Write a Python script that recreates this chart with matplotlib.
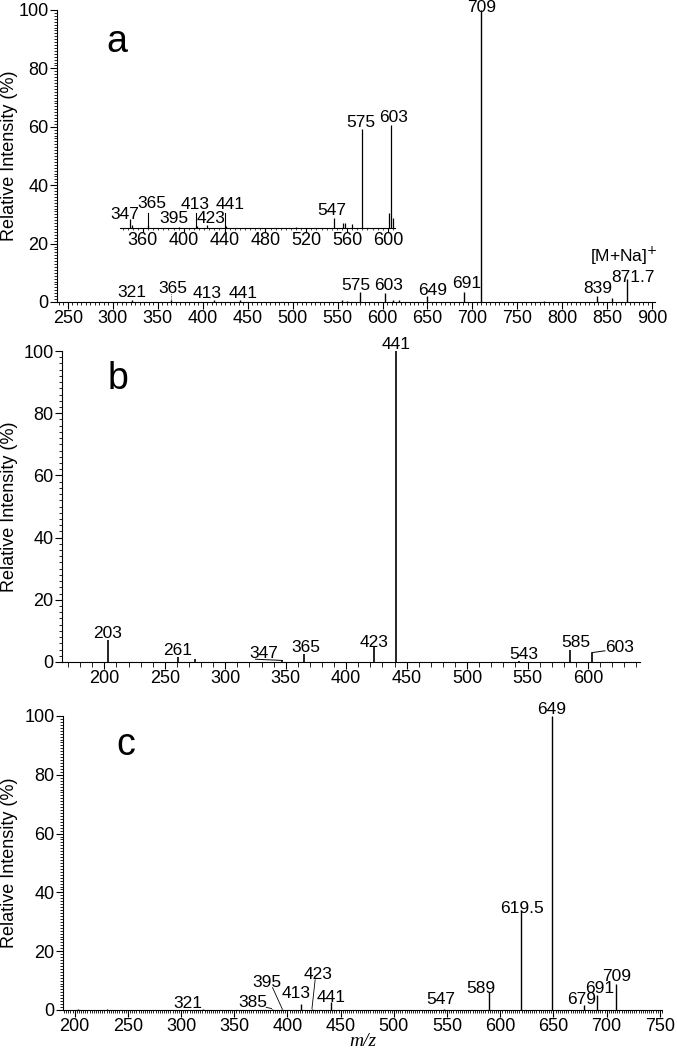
import matplotlib
matplotlib.use("Agg")
import matplotlib.pyplot as plt
from matplotlib.ticker import MultipleLocator

plt.rcParams['font.family'] = ['Liberation Sans', 'DejaVu Sans']

# ---------------- data ----------------
# Panel a (main spectrum)
a_mz = [321, 365, 413, 441, 555, 560, 575, 603, 612, 618, 649, 691, 709, 780, 839, 855, 871.7]
a_int = [0.6, 0.8, 0.7, 0.7, 0.6, 0.5, 3.5, 3.0, 0.8, 0.6, 2.0, 3.5, 100, 0.5, 2.0, 1.5, 8.0]
a_labels = ['321', '365', '413', '441', '575', '603', '649', '691', '709', '839', '871.7']
a_lab_x = [321, 367, 405, 445, 570, 607, 656, 694, 710, 839, 878]
a_lab_y = [1.7, 3.1, 1.4, 1.4, 4.1, 4.1, 2.4, 4.8, 99.4, 3.1, 6.8]

# Panel a inset (zoom 340-607)
i_mz = [347, 349, 365, 395, 413, 423, 441, 510, 547, 556, 558, 565, 575, 601, 603, 605]
i_int = [9, 3, 3, 1, 2, 3, 2, 1, 10, 5, 5, 4, 96, 15, 100, 10]
i_labels = ['347', '365', '395', '413', '423', '441', '547', '575', '603']
i_lab_x = [342, 369, 390, 411, 427, 445, 545, 574, 606]
i_lab_y = [9, 19.4, 5, 18.4, 5, 18.4, 12.6, 98, 103]

# Panel b
b_mz = [203, 261, 275, 347, 365, 423, 441, 543, 585, 603]
b_int = [7.0, 1.6, 1.0, 0.5, 2.6, 5.0, 100, 0.3, 4.0, 3.0]
b_labels = ['203', '261', '347', '365', '423', '441', '543', '585', '603']
b_lab_x = [203, 261, 332, 367, 423, 441, 547, 590, 626]
b_lab_y = [7.7, 2.3, 1.3, 3.2, 4.8, 100.8, 1.0, 4.8, 3.2]

# Panel c
c_mz = [203, 230, 321, 385, 395, 413, 423, 441, 547, 589, 619.5, 649, 679, 691, 709]
c_int = [0.5, 0.4, 0.3, 0.5, 0.4, 2.0, 0.5, 2.7, 0.4, 6.0, 34, 100, 1.7, 5.0, 9.0]
c_labels = ['321', '385', '395', '413', '423', '441', '547', '589', '619.5', '649', '679', '691', '709']
c_lab_x = [306, 367, 381, 408, 429, 441, 544, 582, 620, 648, 676, 693, 709]
c_lab_y = [0.7, 1.0, 7.8, 4.1, 10.5, 2.7, 2.0, 5.8, 33, 100.7, 2.0, 5.8, 10]

FS = 12.5
W, H = 677, 1048


def ax_rect(l, t, r, b):
    return [l / W, 1 - b / H, (r - l) / W, (b - t) / H]


fig = plt.figure(figsize=(W / 100, H / 100), dpi=100)


def style(ax, xlim, major, minor, ymin):
    ax.set_xlim(*xlim)
    ax.set_ylim(0, 100)
    for s in ['top', 'right']:
        ax.spines[s].set_visible(False)
    ax.xaxis.set_major_locator(MultipleLocator(major))
    ax.xaxis.set_minor_locator(MultipleLocator(minor))
    ax.yaxis.set_major_locator(MultipleLocator(20))
    ax.yaxis.set_minor_locator(MultipleLocator(ymin))
    ax.tick_params(axis='both', which='major', labelsize=13, length=5, width=0.8,
                   direction='out', pad=1)
    ax.tick_params(axis='both', which='minor', length=2.5, width=0.6, direction='out')
    ax.set_ylabel('Relative Intensity (%)', fontsize=13, labelpad=2)


def peaks(ax, mz, inten, lw=1.0):
    ax.vlines(mz, 0, inten, color='black', lw=lw)


def labels(ax, txt, xs, ys, fs=FS):
    for t, x, y in zip(txt, xs, ys):
        ax.text(x, y, t, ha='center', va='baseline', fontsize=fs, clip_on=False)


# ---------------- panel a ----------------
axa = fig.add_axes(ax_rect(57, 10, 655, 302))
style(axa, (238, 903), 50, 5, 1)
peaks(axa, a_mz, a_int)
labels(axa, a_labels, a_lab_x, a_lab_y)
axa.plot([365, 365], [1.0, 2.9], color='black', lw=0.6, ls=':')
axa.text(868, 13.7, '[M+Na]$^{+}$', ha='center', va='baseline', fontsize=FS)
axa.text(305, 85.6, 'a', fontsize=27, ha='center', va='baseline')
axa.yaxis.set_label_coords(-0.065, 0.5)

# inset
axi = fig.add_axes(ax_rect(120, 118, 395, 228))
axi.set_xlim(337.5, 607)
axi.set_ylim(0, 107)
for s in ['top', 'right', 'left']:
    axi.spines[s].set_visible(False)
axi.set_yticks([])
axi.xaxis.set_major_locator(MultipleLocator(40))
axi.xaxis.set_minor_locator(MultipleLocator(5))
axi.tick_params(axis='x', which='major', labelsize=13, length=3, width=0.8, pad=0)
axi.tick_params(axis='x', which='minor', length=1.5, width=0.5)
axi.patch.set_alpha(0)
peaks(axi, i_mz, i_int, lw=0.9)
labels(axi, i_labels, i_lab_x, i_lab_y)
for x0, y0 in [(365, 14.5), (412, 14.5), (440, 14.5)]:
    axi.plot([x0, x0], [0, y0], color='black', lw=0.8)

# ---------------- panel b ----------------
axb = fig.add_axes(ax_rect(62, 351, 640, 662))
style(axb, (165, 643), 50, 10, 2)
axb.tick_params(axis='x', which='minor', length=3.5)
peaks(axb, b_mz, b_int, lw=1.2)
labels(axb, b_labels, b_lab_x, b_lab_y)
axb.plot([325, 347], [0.9, 0.5], color='black', lw=0.7)
axb.plot([603, 614], [3.0, 3.6], color='black', lw=0.7)
axb.text(211, 87.8, 'b', fontsize=27, ha='center', va='baseline')
axb.yaxis.set_label_coords(-0.076, 0.5)

# ---------------- panel c ----------------
axc = fig.add_axes(ax_rect(63, 716, 662, 1010))
style(axc, (189, 752), 50, 2, 1)
peaks(axc, c_mz, c_int)
labels(axc, c_labels, c_lab_x, c_lab_y)
axc.plot([386, 395], [7.6, 0.4], color='black', lw=0.6)
axc.plot([380, 385], [0.9, 0.5], color='black', lw=0.6)
axc.plot([426, 423], [10.3, 0.5], color='black', lw=0.6)
axc.text(248, 86.7, 'c', fontsize=27, ha='center', va='baseline')
axc.yaxis.set_label_coords(-0.075, 0.5)
axc.set_xlabel('m/z', fontsize=14, family=['Liberation Serif', 'DejaVu Serif'],
               style='italic', labelpad=-2)

fig.savefig('out.png', dpi=100)
